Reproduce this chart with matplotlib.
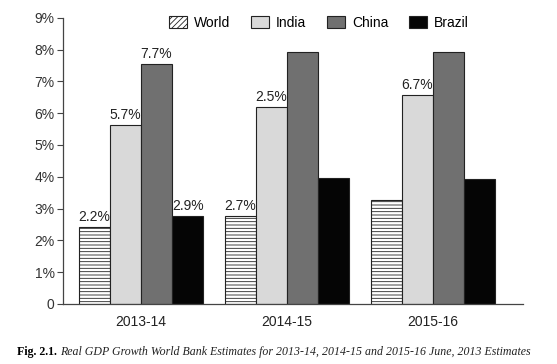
import matplotlib
matplotlib.use("Agg")
import matplotlib.pyplot as plt
import numpy as np

categories = ["2013-14", "2014-15", "2015-16"]
series = ["World", "India", "China", "Brazil"]
world = [2.42, 2.77, 3.27]
india = [5.63, 6.2, 6.57]
china = [7.55, 7.92, 7.92]
brazil = [2.77, 3.96, 3.93]
world_labels = ["2.2%", "2.7%", ""]
india_labels = ["5.7%", "2.5%", "6.7%"]
china_labels = ["7.7%", "", ""]
brazil_labels = ["2.9%", "", ""]
yticks = [0, 1, 2, 3, 4, 5, 6, 7, 8, 9]
ytick_labels = ["0", "1%", "2%", "3%", "4%", "5%", "6%", "7%", "8%", "9%"]

plt.rcParams['font.family'] = ['Liberation Sans', 'DejaVu Sans']
plt.rcParams['hatch.linewidth'] = 0.6

fig = plt.figure(figsize=(5.57, 3.64), dpi=100)
ax = fig.add_axes([0.113, 0.165, 0.826, 0.786])

x = np.arange(len(categories))
w = 0.213
values = [world, india, china, brazil]
labels = [world_labels, india_labels, china_labels, brazil_labels]
faces = ["white", "#d9d9d9", "#707070", "#050505"]
hatches = ["-----", None, None, None]
for i, (vals, lab, fc, h) in enumerate(zip(values, labels, faces, hatches)):
    pos = x + (i - 1.5) * w
    bars = ax.bar(pos, vals, width=w, color=fc, edgecolor="#222222", linewidth=0.8,
                  hatch=h, label=series[i])
    for b, t in zip(bars, lab):
        if t:
            ax.text(b.get_x() + b.get_width() / 2, b.get_height() + 0.1, t,
                    ha="center", va="bottom", fontsize=10, color="#222222")

ax.set_xlim(-0.534, 2.616)
ax.set_ylim(0, 9)
ax.set_yticks(yticks)
ax.set_yticklabels(ytick_labels, fontsize=10, color="#333333")
ax.set_xticks(x)
ax.set_xticklabels(categories, fontsize=10, color="#222222")
ax.tick_params(axis="x", length=0, pad=8)
ax.tick_params(axis="y", length=4, width=0.8, color="#444444", pad=2)
for s in ["top", "right"]:
    ax.spines[s].set_visible(False)
for s in ["left", "bottom"]:
    ax.spines[s].set_color("#444444")
    ax.spines[s].set_linewidth(0.9)

leg = ax.legend(ncol=4, loc="upper center", bbox_to_anchor=(0.556, 1.05), frameon=False,
                fontsize=10, handlelength=1.3, handleheight=0.9, columnspacing=1.5,
                handletextpad=0.5)
leg.get_patches()[0].set_hatch("//////")

fig.text(0.03, 0.032, "Fig. 2.1.", fontsize=8.6, fontweight="bold",
         family=["Liberation Serif", "DejaVu Serif"], ha="left", va="center")
fig.text(0.108, 0.032, "Real GDP Growth World Bank Estimates for 2013-14, 2014-15 and 2015-16 June, 2013 Estimates",
         fontsize=8.6, style="italic", family=["Liberation Serif", "DejaVu Serif"],
         ha="left", va="center", color="#222222")

fig.savefig("out.png", dpi=100)
